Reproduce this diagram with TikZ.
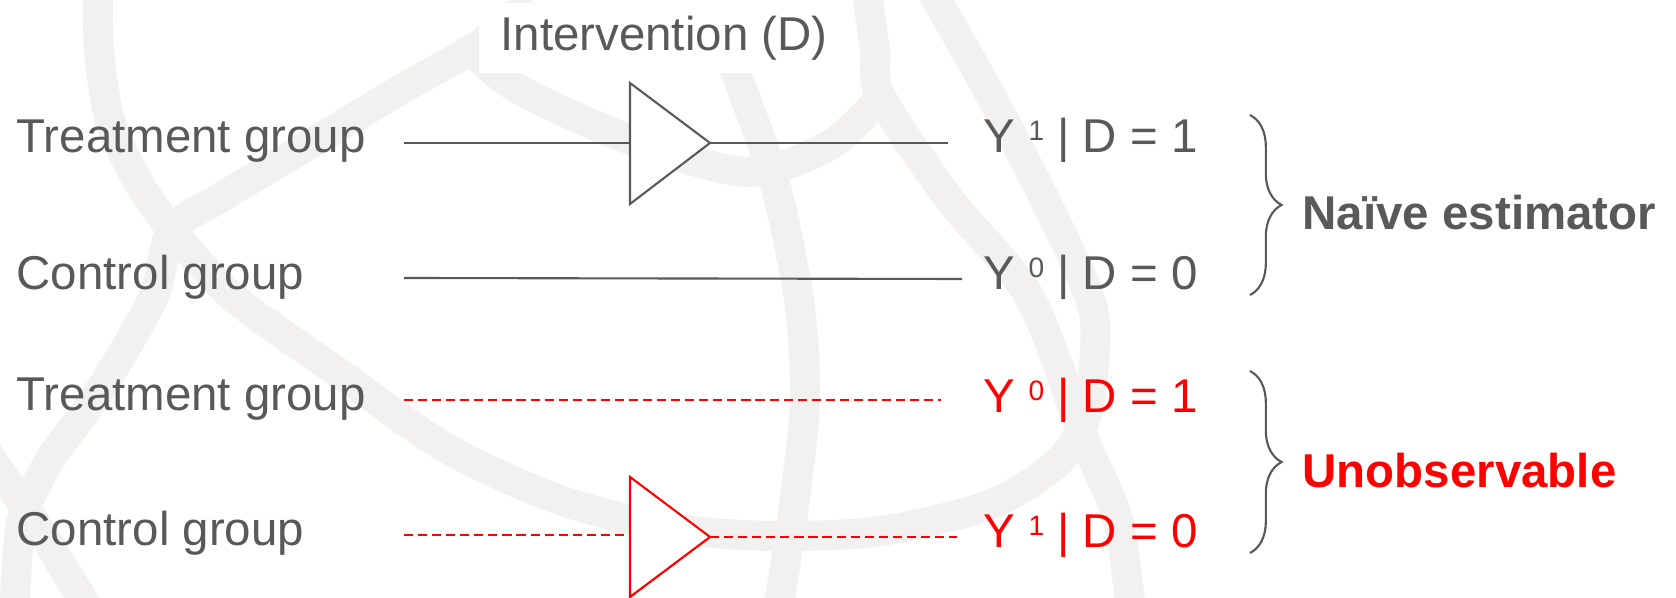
\documentclass[tikz,border=0pt]{standalone}
\usepackage{fontspec}
\setmainfont{Liberation Sans}
\usetikzlibrary{decorations.pathreplacing}
\definecolor{txtgray}{RGB}{89,89,89}
\definecolor{globegray}{RGB}{242,241,240}
\newcommand{\supy}[1]{\raisebox{3.6pt}{\fontsize{8}{8}\selectfont #1}}

\begin{document}
\begin{tikzpicture}[x=0.1mm, y=-0.1mm,
  font=\fontsize{13.5}{16}\selectfont,
  every node/.style={inner sep=0pt, text=txtgray},
  rowtxt/.style={anchor=base west},
  wire/.style={draw=txtgray, line width=0.6pt},
  cf/.style={draw=red, line width=0.6pt, dash pattern=on 2.6pt off 1.4pt},
  gate/.style={line width=0.6pt, fill=white},
  brace/.style={draw=txtgray, line width=0.6pt, decorate, decoration={brace, amplitude=9pt}},
  globe/.style={draw=globegray, line width=3mm, line cap=round}]
\fill[white] (0,0) rectangle (1676,598);
\useasboundingbox (0,0) rectangle (1676,598);

% globe in the background
\draw[globe] plot[smooth] coordinates {(98,-20) (99,50) (110,120) (137,180) (172,230) (234,298) (339,373) (446,448) (560,500) (670,528) (774,536) (881,531) (989,505) (1055,465) (1085,420) (1095,350) (1090,298) (1045,200) (993,100) (937,0) (925,-20)};
\draw[globe] plot[smooth] coordinates {(520,10) (479,45) (400,90) (300,150) (220,198) (172,230) (153,298) (100,390) (50,460) (22,520) (15,598) (13,620)};
\draw[globe] plot[smooth] coordinates {(470,50) (520,90) (631,140) (747,172) (830,145) (881,97)};
\draw[globe] plot[smooth] coordinates {(720,20) (735,70) (774,180) (799,300) (805,398) (795,498) (780,598) (776,620)};
\draw[globe] plot[smooth] coordinates {(866,-20) (868,0) (875,50) (881,97) (950,200) (1030,298) (1085,441) (1118,520) (1132,620)};
\draw[globe] plot[smooth] coordinates {(-15,450) (40,530) (95,620)};

\node[fill=white, minimum width=3.7cm, minimum height=0.7cm] (interv) at (664,38) {Intervention (D)};

% group labels and outcomes
\node[rowtxt] (treat1) at (16,153) {Treatment group};
\node[rowtxt] (ctrl1) at (16,290) {Control group};
\node[rowtxt] (treat2) at (16,411) {Treatment group};
\node[rowtxt] (ctrl2) at (16,546) {Control group};
\node[rowtxt] (y11) at (983,153) {Y \supy{1} | D = 1};
\node[rowtxt] (y00) at (983,290) {Y \supy{0} | D = 0};
\node[rowtxt, text=red] (y01) at (983,413) {Y \supy{0} | D = 1};
\node[rowtxt, text=red] (y10) at (983,548) {Y \supy{1} | D = 0};

\coordinate (a1) at (404,143);
\coordinate (b1) at (948,143);
\coordinate (a2) at (404,278);
\coordinate (b2) at (962,279);
\coordinate (a3) at (404,400);
\coordinate (b3) at (941,400);
\coordinate (a4) at (404,535);
\coordinate (b4) at (957,537);

\coordinate (g1in) at (630,143);
\coordinate (g1tip) at (710,143);
\coordinate (g2in) at (630,535);
\coordinate (g2tip) at (710,537);

\draw[wire] (a1) -- (g1in);
\draw[wire] (g1tip) -- (b1);
\draw[wire] (a2) -- (b2);
\draw[cf] (a3) -- (b3);
\draw[cf] (a4) -- (g2in);
\draw[cf] (g2tip) -- (b4);

\draw[gate, draw=txtgray] (630,83) -- (g1tip) -- (630,204) -- cycle;
\draw[gate, draw=red] (630,477) -- (g2tip) -- (630,597) -- cycle;

\draw[brace] (1250,115) -- (1250,295);
\draw[brace] (1250,371) -- (1250,553);
\node[rowtxt, font=\fontsize{13.5}{16}\selectfont\bfseries] (naive) at (1302,230) {Naïve estimator};
\node[rowtxt, font=\fontsize{13.5}{16}\selectfont\bfseries, text=red] (unobs) at (1302,488) {Unobservable};
\end{tikzpicture}
\end{document}
